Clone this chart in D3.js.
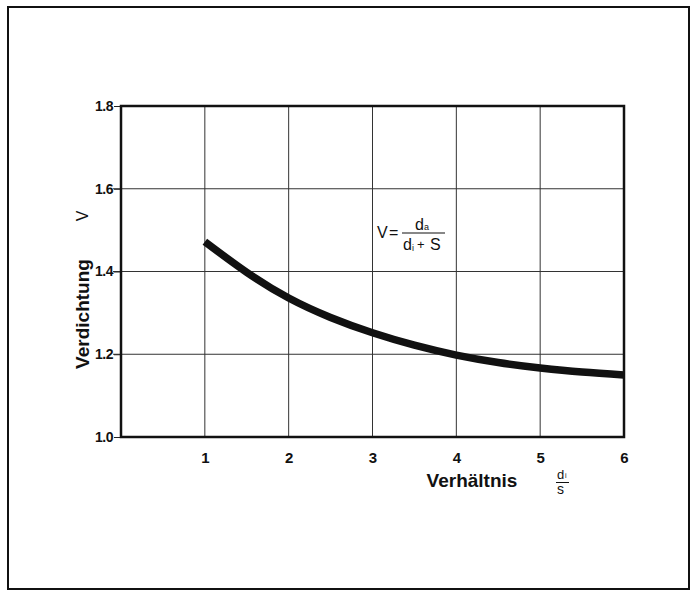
<!DOCTYPE html>
<html>
<head>
<meta charset="utf-8">
<script src="https://cdn.jsdelivr.net/npm/d3@7"></script>
<style>
body { margin: 0; background: #fff; }
text { font-family: "Liberation Sans", Arial, sans-serif; fill: #111; }
</style>
</head>
<body>
<div class="chart"></div>
<script>
var width = 694, height = 593;

// data
var ratio = [1, 1.5, 2, 2.5, 3, 3.5, 4, 4.5, 5, 5.5, 6];
var compaction = [1.472, 1.398, 1.336, 1.289, 1.252, 1.222, 1.198, 1.180, 1.167, 1.157, 1.150];
var xTicks = [1, 2, 3, 4, 5, 6];
var yTicks = [1.0, 1.2, 1.4, 1.6, 1.8];

var svg = d3.select(".chart")
  .append("svg")
  .attr("width", width)
  .attr("height", height);

// outer frame
svg.append("rect")
  .attr("x", 8).attr("y", 7)
  .attr("width", 681).attr("height", 582)
  .attr("fill", "none")
  .attr("stroke", "#111")
  .attr("stroke-width", 2);

var x = d3.scaleLinear().domain([0, 6]).range([121, 624]);
var y = d3.scaleLinear().domain([1.0, 1.8]).range([437, 106]);

// grid
svg.append("g").selectAll("line")
  .data(xTicks.slice(0, 5))
  .enter().append("line")
  .attr("x1", function (d) { return x(d); })
  .attr("x2", function (d) { return x(d); })
  .attr("y1", y(1.8)).attr("y2", y(1.0))
  .attr("stroke", "#333").attr("stroke-width", 1);

svg.append("g").selectAll("line")
  .data(yTicks.slice(1, 4))
  .enter().append("line")
  .attr("x1", x(0) - 8).attr("x2", x(6))
  .attr("y1", function (d) { return y(d); })
  .attr("y2", function (d) { return y(d); })
  .attr("stroke", "#333").attr("stroke-width", 1);

// y axis ticks + labels
var yAxis = d3.axisLeft(y)
  .tickValues(yTicks)
  .tickSize(7)
  .tickFormat(d3.format(".1f"));
var gy = svg.append("g")
  .attr("transform", "translate(" + x(0) + ",0)")
  .call(yAxis);
gy.select(".domain").remove();
gy.selectAll(".tick line").attr("stroke", "#222");
gy.selectAll(".tick text")
  .attr("x", -8)
  .attr("font-size", 14)
  .attr("font-weight", "bold")
  .style("font-family", "'Liberation Sans', Arial, sans-serif")
  .style("letter-spacing", "-0.5px")
  .attr("fill", "#111");

// x axis labels
var xAxis = d3.axisBottom(x)
  .tickValues(xTicks)
  .tickSize(0)
  .tickFormat(d3.format("d"));
var gx = svg.append("g")
  .attr("transform", "translate(0," + y(1.0) + ")")
  .call(xAxis);
gx.select(".domain").remove();
gx.selectAll(".tick text")
  .attr("y", 15)
  .attr("font-size", 15)
  .attr("font-weight", "bold")
  .style("font-family", "'Liberation Sans', Arial, sans-serif")
  .attr("fill", "#111");

// plot frame
svg.append("rect")
  .attr("x", x(0)).attr("y", y(1.8))
  .attr("width", x(6) - x(0)).attr("height", y(1.0) - y(1.8))
  .attr("fill", "none")
  .attr("stroke", "#111")
  .attr("stroke-width", 2.5);

// curve
var line = d3.line()
  .x(function (d) { return x(d[0]); })
  .y(function (d) { return y(d[1]); })
  .curve(d3.curveNatural);

svg.append("path")
  .datum(d3.zip(ratio, compaction))
  .attr("d", line)
  .attr("fill", "none")
  .attr("stroke", "#111")
  .attr("stroke-width", 7.5);

// axis titles
svg.append("text")
  .attr("transform", "translate(89,314) rotate(-90)")
  .attr("text-anchor", "middle")
  .attr("font-size", 19)
  .attr("font-weight", "bold")
  .text("Verdichtung");

svg.append("text")
  .attr("transform", "translate(88,216) rotate(-90)")
  .attr("text-anchor", "middle")
  .attr("font-size", 16)
  .text("V");

svg.append("text")
  .attr("x", 472).attr("y", 487)
  .attr("text-anchor", "middle")
  .attr("font-size", 19)
  .attr("font-weight", "bold")
  .text("Verhältnis");

// d_i / s
var fr = svg.append("g");
fr.append("text").attr("x", 557).attr("y", 479).attr("font-size", 13).text("d");
fr.append("text").attr("x", 565).attr("y", 478).attr("font-size", 7).text("i");
fr.append("line").attr("x1", 556).attr("x2", 569).attr("y1", 482.5).attr("y2", 482.5)
  .attr("stroke", "#111").attr("stroke-width", 1);
fr.append("text").attr("x", 557).attr("y", 494).attr("font-size", 14).text("s");

// formula V = d_a / (d_i + s)
var fm = svg.append("g");
fm.append("text").attr("x", 377).attr("y", 238).attr("font-size", 16).text("V");
fm.append("text").attr("x", 389).attr("y", 238).attr("font-size", 16).text("=");
fm.append("line").attr("x1", 402).attr("x2", 445).attr("y1", 233).attr("y2", 233)
  .attr("stroke", "#111").attr("stroke-width", 1.2);
fm.append("text").attr("x", 415).attr("y", 230).attr("font-size", 16).text("d");
fm.append("text").attr("x", 424).attr("y", 230).attr("font-size", 9).text("a");
fm.append("text").attr("x", 403).attr("y", 250).attr("font-size", 16).text("d");
fm.append("text").attr("x", 412).attr("y", 251).attr("font-size", 9).text("i");
fm.append("text").attr("x", 417).attr("y", 249).attr("font-size", 13).text("+");
fm.append("text").attr("x", 430).attr("y", 250).attr("font-size", 16).text("S");
</script>
</body>
</html>
